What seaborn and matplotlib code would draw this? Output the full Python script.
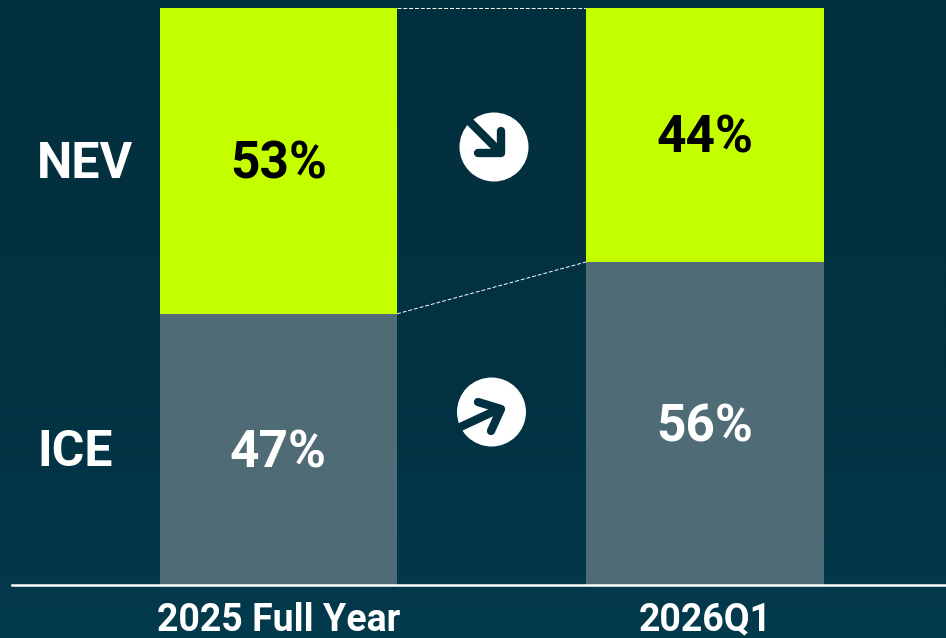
import numpy as np
import pandas as pd
import matplotlib
matplotlib.use("Agg")
import matplotlib.pyplot as plt
from matplotlib.patches import Circle
import seaborn as sns

periods = ["2025 Full Year", "2026Q1"]
nev_share = [53, 44]
ice_share = [47, 56]
series_names = ["NEV", "ICE"]

BG_TOP = "#022f3e"
BG_MID = "#023242"
BG_BOTTOM = "#033a4c"
LIME = "#c4ff00"
GREY = "#4f6b75"
W, H = 946, 638

sns.set_theme(style="white")
plt.rcParams["font.family"] = ["Roboto", "DejaVu Sans"]

fig = plt.figure(figsize=(W / 100, H / 100), dpi=100)

# gradient background
bg = fig.add_axes([0, 0, 1, 1], zorder=0)
grad = np.linspace(0, 1, 256).reshape(-1, 1)
cmap = matplotlib.colors.LinearSegmentedColormap.from_list(
    "bg", [(0, BG_TOP), (0.6, BG_MID), (1, BG_BOTTOM)])
bg.imshow(grad, aspect="auto", cmap=cmap)
bg.axis("off")

# axes run from the baseline to the top of the bars
ax = fig.add_axes([0, (H - 585) / H, 1, 577 / H], zorder=1)
ax.patch.set_alpha(0)

df = pd.DataFrame({"period": periods, "nev": nev_share, "ice": ice_share})
bar_w = 0.556
sns.barplot(data=df, x="period", y="ice", color=GREY, saturation=1, width=bar_w,
            linewidth=0, edgecolor="none", ax=ax)
sns.barplot(data=df, x="period", y="nev", bottom=df["ice"], color=LIME, saturation=1, width=bar_w,
            linewidth=0, edgecolor="none", ax=ax)

ax.set_xlim(-278.5 / 426.5, (W - 278.5) / 426.5)
ax.set_ylim(0, 100)
ax.set_xlabel("")
ax.set_ylabel("")
ax.set_yticks([])
ax.tick_params(axis="x", length=0, pad=12, labelsize=27, labelcolor="white")
for lab in ax.get_xticklabels():
    lab.set_fontweight("bold")

sns.despine(ax=ax, left=True)
ax.spines["bottom"].set_color("white")
ax.spines["bottom"].set_linewidth(1.8)
ax.spines["bottom"].set_bounds(-266.5 / 426.5, (W - 278.5) / 426.5)

# value labels, centred in each segment (nudged up a little to sit like the original)
nudge = 0.3
for i in range(len(periods)):
    ax.text(i, ice_share[i] / 2 + nudge, f"{ice_share[i]}%", ha="center", va="center_baseline",
            color="white", fontsize=37, fontweight="bold")
    ax.text(i, ice_share[i] + nev_share[i] / 2 + nudge, f"{nev_share[i]}%", ha="center", va="center_baseline",
            color="black", fontsize=37, fontweight="bold")

# dashed connectors between the bars
x_conn = [bar_w / 2, 1 - bar_w / 2]
ax.plot(x_conn, [ice_share[0], ice_share[1]], color="white", lw=0.7, ls=(0, (4, 2)))
ax.plot(x_conn, [ice_share[0] + nev_share[0], ice_share[1] + nev_share[1]], color="white", lw=0.7,
        ls=(0, (4, 2)), clip_on=False)

# series names on the left
trans = ax.get_yaxis_transform()
ax.text(37 / W, ice_share[0] + nev_share[0] / 2 + nudge, series_names[0], transform=trans, ha="left",
        va="center_baseline", color="white", fontsize=36, fontweight="bold")
ax.text(37 / W, ice_share[0] / 2 + nudge, series_names[1], transform=trans, ha="left",
        va="center_baseline", color="white", fontsize=36, fontweight="bold")

# arrow icons, drawn in pixel coordinates
icons = fig.add_axes([0, 0, 1, 1], zorder=2)
icons.set_xlim(0, W)
icons.set_ylim(H, 0)
icons.axis("off")

icons.add_patch(Circle((494, 147), 34.5, color="white", lw=0))
icons.plot([466, 500], [118, 152], color=BG_TOP, lw=6, solid_capstyle="butt")
icons.plot([501, 501, 478], [131, 153, 153], color=BG_TOP, lw=6, solid_capstyle="round",
           solid_joinstyle="round")

icons.add_patch(Circle((491.5, 412), 34.5, color="white", lw=0))
icons.plot([456, 499], [429, 409], color=BG_MID, lw=6, solid_capstyle="butt")
icons.plot([478, 501, 491], [402, 409, 431], color=BG_MID, lw=6, solid_capstyle="round",
           solid_joinstyle="round")

fig.savefig("out.png", dpi=100, facecolor=BG_TOP)
